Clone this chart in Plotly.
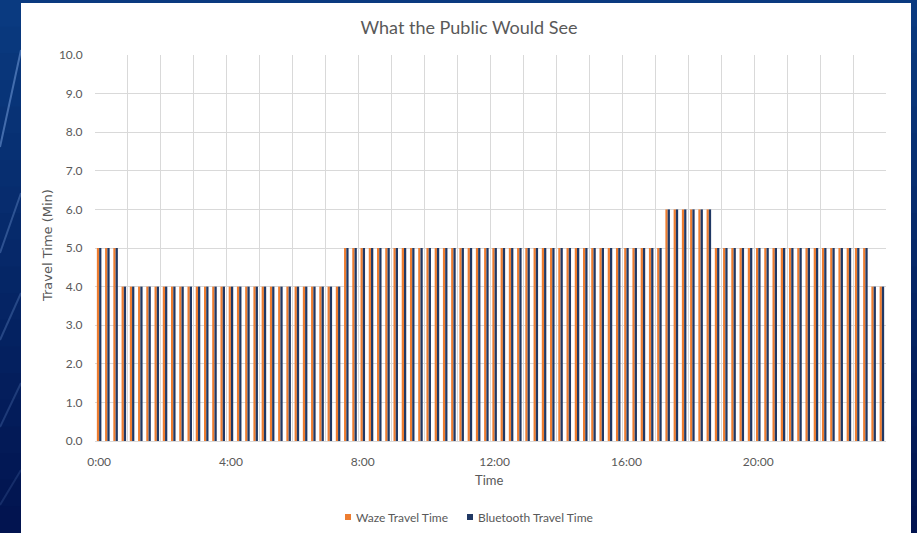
import plotly.graph_objects as go

# ---------------- data ----------------
times = [f"{h}:{m:02d}" for h in range(24) for m in (0, 15, 30, 45)]

waze_travel_time = [
    5, 5, 5, 4, 4, 4, 4, 4, 4, 4, 4, 4, 4, 4, 4, 4,
    4, 4, 4, 4, 4, 4, 4, 4, 4, 4, 4, 4, 4, 4, 5, 5,
    5, 5, 5, 5, 5, 5, 5, 5, 5, 5, 5, 5, 5, 5, 5, 5,
    5, 5, 5, 5, 5, 5, 5, 5, 5, 5, 5, 5, 5, 5, 5, 5,
    5, 5, 5, 5, 5, 6, 6, 6, 6, 6, 6, 5, 5, 5, 5, 5,
    5, 5, 5, 5, 5, 5, 5, 5, 5, 5, 5, 5, 5, 5, 4, 4,
]
bluetooth_travel_time = [
    5, 5, 5, 4, 4, 4, 4, 4, 4, 4, 4, 4, 4, 4, 4, 4,
    4, 4, 4, 4, 4, 4, 4, 4, 4, 4, 4, 4, 4, 4, 5, 5,
    5, 5, 5, 5, 5, 5, 5, 5, 5, 5, 5, 5, 5, 5, 5, 5,
    5, 5, 5, 5, 5, 5, 5, 5, 5, 5, 5, 5, 5, 5, 5, 5,
    5, 5, 5, 5, 5, 6, 6, 6, 6, 6, 6, 5, 5, 5, 5, 5,
    5, 5, 5, 5, 5, 5, 5, 5, 5, 5, 5, 5, 5, 5, 4, 4,
]
series_names = ["Waze Travel Time", "Bluetooth Travel Time"]
x_tick_labels = ["0:00", "4:00", "8:00", "12:00", "16:00", "20:00"]
y_ticks = [0, 1, 2, 3, 4, 5, 6, 7, 8, 9, 10]


def to_hours(t):
    h, m = t.split(":")
    return int(h) + int(m) / 60.0


x_hours = [to_hours(t) for t in times]
x_tick_vals = [to_hours(t) for t in x_tick_labels]

# ---------------- layout geometry (pixels) ----------------
W, H = 917, 533
PL, PR, PT, PB = 95, 886, 55, 441


def px(xp):
    return (xp - PL) / (PR - PL)


def py(yp):
    return (PB - yp) / (PB - PT)


ORANGE = "#ED7D31"
BLUE = "#203864"
TXT = "#595959"
GRID = "#d9d9d9"
FONT = "Lato"

fig = go.Figure()
fig.add_trace(go.Bar(x=x_hours, y=waze_travel_time, name=series_names[0],
                     marker=dict(color=ORANGE, line=dict(width=0)), showlegend=False))
fig.add_trace(go.Bar(x=x_hours, y=bluetooth_travel_time, name=series_names[1],
                     marker=dict(color=BLUE, line=dict(width=0)), showlegend=False))

shapes = []
# slide background gradient bands
n = 20
for i in range(n):
    t = i / (n - 1)
    r = int(10 + (2 - 10) * t)
    g = int(58 + (20 - 58) * t)
    b = int(128 + (80 - 128) * t)
    shapes.append(dict(type="rect", xref="paper", yref="paper", layer="below",
                       x0=px(0), x1=px(W), y0=py(i * H / n), y1=py((i + 1) * H / n + 1),
                       fillcolor=f"rgb({r},{g},{b})", line=dict(width=0)))
# streaks on the left
for (x0, y0, x1, y1, op) in [(21, 50, 0, 147, 0.45), (21, 193, 0, 253, 0.3),
                             (21, 293, 0, 340, 0.25), (21, 383, 0, 427, 0.2),
                             (21, 470, 0, 505, 0.15)]:
    shapes.append(dict(type="line", xref="paper", yref="paper", layer="below",
                       x0=px(x0), y0=py(y0), x1=px(x1), y1=py(y1),
                       line=dict(color=f"rgba(140,180,240,{op})", width=2)))
# white chart panel
shapes.append(dict(type="rect", xref="paper", yref="paper", layer="below",
                   x0=px(21), x1=px(911), y0=py(534), y1=py(3),
                   fillcolor="white", line=dict(width=0)))

# legend (drawn manually for Excel-like small square keys)
legend_items = [(series_names[0], ORANGE, 345), (series_names[1], BLUE, 467)]
annotations = []
for name, col, lx in legend_items:
    shapes.append(dict(type="rect", xref="paper", yref="paper",
                       x0=px(lx), x1=px(lx + 6), y0=py(520), y1=py(514),
                       fillcolor=col, line=dict(width=0)))
    annotations.append(dict(text=name, xref="paper", yref="paper", x=px(lx + 9), y=py(517),
                            showarrow=False, xanchor="left", yanchor="middle",
                            font=dict(size=12, color=TXT, family=FONT)))

annotations += [
    dict(text="Travel Time (Min)", xref="paper", yref="paper", x=px(47), y=py(246),
         textangle=-90, showarrow=False, font=dict(size=13, color=TXT, family="DejaVu Sans"),
         xanchor="center", yanchor="middle"),
    dict(text="Time", xref="paper", yref="paper", x=px(489), y=py(480),
         showarrow=False, font=dict(size=13, color=TXT, family=FONT),
         xanchor="center", yanchor="middle"),
]

fig.update_layout(
    width=W, height=H,
    margin=dict(l=PL, r=W - PR, t=PT, b=H - PB, pad=0, autoexpand=False),
    paper_bgcolor="#062466",
    plot_bgcolor="white",
    barmode="group",
    bargap=0.45,
    bargroupgap=0,
    title=dict(text="What the Public Would See", x=px(469), xref="paper",
               y=1 - 28 / H, yanchor="middle", xanchor="center",
               font=dict(size=18, color=TXT, family=FONT)),
    shapes=shapes,
    annotations=annotations,
    showlegend=False,
    xaxis=dict(
        range=[-0.125, 23.875],
        tickmode="array", tickvals=x_tick_vals, ticktext=x_tick_labels,
        showgrid=False, zeroline=False,
        ticks="outside", ticklen=10, tickcolor="rgba(0,0,0,0)",
        tickfont=dict(size=12, color=TXT, family=FONT),
        showline=True, linecolor=GRID, linewidth=1,
        minor=dict(tickmode="array", tickvals=[h - 0.125 for h in range(25)],
                   showgrid=True, gridcolor=GRID, gridwidth=1, ticks=""),
    ),
    yaxis=dict(
        range=[0, 10], tickmode="array", tickvals=y_ticks,
        tickformat=".1f", showgrid=True, gridcolor=GRID, gridwidth=1,
        zeroline=False, ticks="outside", ticklen=9, tickcolor="rgba(0,0,0,0)",
        tickfont=dict(size=12, color=TXT, family=FONT),
        showline=False,
    ),
)

fig.write_html("out.html")
